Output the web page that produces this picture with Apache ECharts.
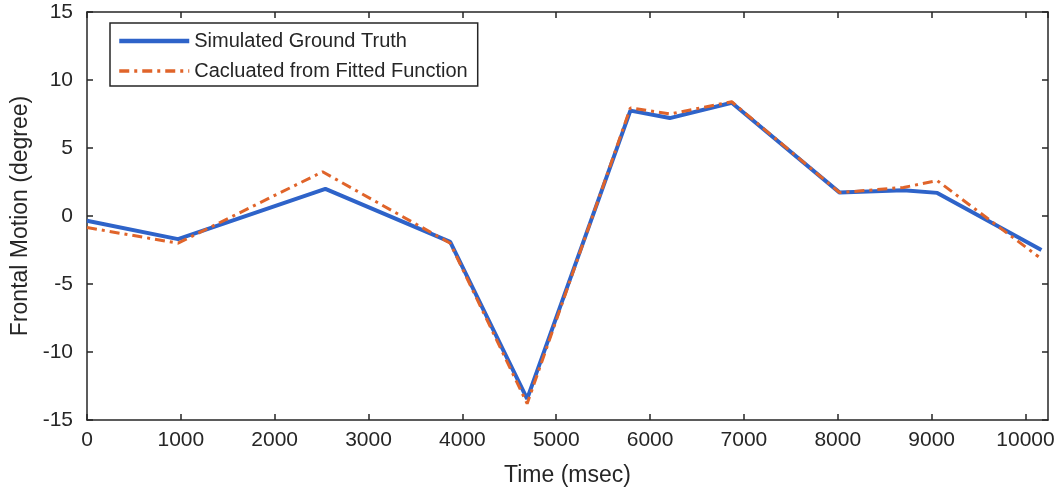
<!DOCTYPE html>
<html style="height:100%">
<head>
    <meta charset="utf-8">
</head>
<body style="height:100%; margin: 0; background: #fff">
    <div id="container" style="width: 1062px; height: 495px"></div>
    <script src="https://cdn.jsdelivr.net/npm/echarts@6/dist/echarts.min.js"></script>
    <script type="text/javascript">
    // values
    var truthTime = [0, 970, 2540, 3870, 4690, 5790, 6210, 6870, 8020, 8700, 9060, 10170];
    var truthValue = [-0.35, -1.7, 2.0, -1.9, -13.45, 7.75, 7.2, 8.33, 1.72, 1.9, 1.7, -2.5];
    var fitTime = [0, 970, 2510, 3870, 4690, 5790, 6210, 6870, 8020, 8700, 9060, 10140];
    var fitValue = [-0.85, -2.0, 3.25, -2.0, -13.8, 7.95, 7.5, 8.4, 1.72, 2.1, 2.6, -3.0];
    var seriesNames = ['Simulated Ground Truth', 'Cacluated from Fitted Function'];

    function pairs(xs, ys) {
        var out = [];
        for (var i = 0; i < xs.length; i++) out.push([xs[i], ys[i]]);
        return out;
    }

    var font = 'Liberation Sans, Arial, sans-serif';
    var blue = '#2e63c9', orange = '#e0642a';
    var axisLine = { show: true, onZero: false, lineStyle: { color: '#262626', width: 1.5 } };
    var tickIn = { show: true, inside: true, length: 6, lineStyle: { color: '#262626', width: 1.5 } };

    var myChart = echarts.init(document.getElementById('container'));
    var option = {
        animation: false,
        grid: { left: 87, right: 14, top: 12, bottom: 75 },
        legend: {
            data: [
                { name: seriesNames[0], lineStyle: { color: blue, width: 4.5 } },
                { name: seriesNames[1], lineStyle: { color: orange, width: 3.5, type: [10, 5, 3, 5] } }
            ],
            orient: 'vertical',
            left: 110,
            top: 23,
            padding: [8, 10, 5, 7],
            itemWidth: 70,
            itemHeight: 14,
            itemGap: 10,
            borderColor: '#262626',
            borderWidth: 1.5,
            backgroundColor: '#fff',
            itemStyle: { opacity: 0 },
            textStyle: { fontFamily: font, fontSize: 20, color: '#262626' }
        },
        xAxis: [{
            type: 'value',
            min: 0, max: 10240, interval: 1000,
            name: 'Time (msec)',
            nameLocation: 'middle',
            nameGap: 44,
            nameTextStyle: { fontFamily: font, fontSize: 23, color: '#262626' },
            axisLine: axisLine,
            axisTick: tickIn,
            splitLine: { show: false },
            axisLabel: {
                fontFamily: font, fontSize: 21, color: '#262626', margin: 10,
                showMaxLabel: false,
                formatter: function (v) { return String(v); }
            }
        }, {
            type: 'value', position: 'top',
            min: 0, max: 10240, interval: 1000,
            axisLine: axisLine, axisTick: tickIn,
            axisLabel: { show: false }, splitLine: { show: false }
        }],
        yAxis: [{
            type: 'value',
            min: -15, max: 15, interval: 5,
            name: 'Frontal Motion (degree)',
            nameLocation: 'middle',
            nameGap: 52,
            nameTextStyle: { fontFamily: font, fontSize: 23, color: '#262626' },
            axisLine: axisLine,
            axisTick: tickIn,
            splitLine: { show: false },
            axisLabel: { fontFamily: font, fontSize: 21, color: '#262626', margin: 14 }
        }, {
            type: 'value', position: 'right',
            min: -15, max: 15, interval: 5,
            axisLine: axisLine, axisTick: tickIn,
            axisLabel: { show: false }, splitLine: { show: false }
        }],
        series: [{
            name: seriesNames[0],
            type: 'line',
            symbol: 'none',
            data: pairs(truthTime, truthValue),
            lineStyle: { color: blue, width: 4 },
            itemStyle: { color: blue },
            z: 2
        }, {
            name: seriesNames[1],
            type: 'line',
            symbol: 'none',
            data: pairs(fitTime, fitValue),
            lineStyle: { color: orange, width: 3, type: [10, 5, 3, 5] },
            itemStyle: { color: orange },
            z: 3
        }]
    };
    myChart.setOption(option);
    </script>
</body>
</html>
